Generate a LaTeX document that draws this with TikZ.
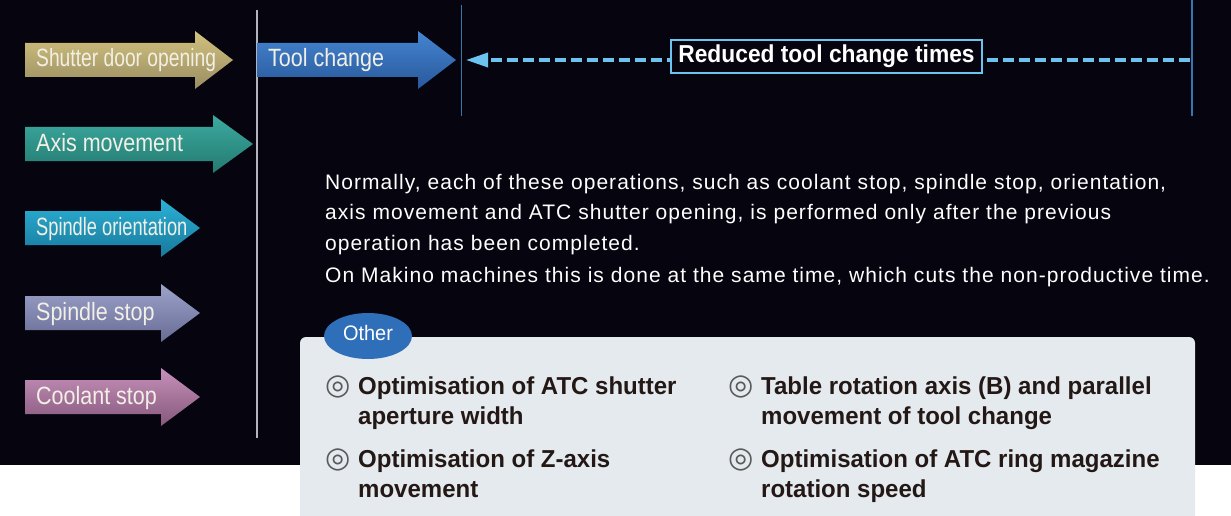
\documentclass[tikz,border=0pt]{standalone}
\usepackage{fontspec}
\setmainfont{Liberation Sans}
\newfontfamily\lblfont{Liberation Sans}[FakeStretch=0.86]
\newfontfamily\lblnarrowfont{Liberation Sans}[FakeStretch=0.77]
\newfontfamily\lbltightfont{Liberation Sans}[FakeStretch=0.73]
\newfontfamily\notefont{Liberation Sans}[LetterSpace=5.0]
\newfontfamily\headfont{Liberation Sans Bold}[FakeStretch=0.93]
\newfontfamily\itemfont{Liberation Sans Bold}[FakeStretch=0.98]
\newfontfamily\badgefont{Liberation Sans}[FakeStretch=0.95]
\newfontfamily\markfont{DejaVu Sans}
\usetikzlibrary{shapes.geometric,arrows.meta,positioning}

\definecolor{bgnight}{HTML}{06040F}
\definecolor{shutterA}{HTML}{D2C27E}
\definecolor{shutterB}{HTML}{9A8D62}
\definecolor{toolA}{HTML}{4585D2}
\definecolor{toolB}{HTML}{28589A}
\definecolor{axisA}{HTML}{3CAAA0}
\definecolor{axisB}{HTML}{247A70}
\definecolor{orientA}{HTML}{2CB0D6}
\definecolor{orientB}{HTML}{17799C}
\definecolor{stopA}{HTML}{9CA2CA}
\definecolor{stopB}{HTML}{686C94}
\definecolor{coolA}{HTML}{C690BA}
\definecolor{coolB}{HTML}{86587C}
\definecolor{dashblue}{HTML}{6CC4EE}
\definecolor{barblue}{HTML}{3A76AE}
\definecolor{bargray}{HTML}{B4B4BC}
\definecolor{panelgray}{HTML}{E4EAED}
\definecolor{otherblue}{HTML}{2F6EB9}
\definecolor{inkdark}{HTML}{231815}
\definecolor{markgray}{HTML}{5A5A5A}
\definecolor{labelwhite}{HTML}{F2F0E6}

\tikzset{
  oplabel/.style  = {anchor=base west, inner sep=0pt, text=labelwhite,
                     font=\lblfont\fontsize{25}{30}\selectfont},
  narrow/.style   = {font=\lblnarrowfont\fontsize{25}{30}\selectfont},
  tight/.style    = {font=\lbltightfont\fontsize{25}{30}\selectfont},
  graybar/.style  = {draw=bargray, line width=1.5pt},
  bluebar/.style  = {draw=barblue, line width=1.5pt},
  gainline/.style = {draw=dashblue, line width=3.5pt, dash pattern=on 11pt off 5pt,
                     -{Triangle[length=22pt,width=14pt,sep=0pt]}},
  gainbox/.style  = {rectangle, draw=dashblue, line width=1.5pt, fill=bgnight,
                     minimum width=311pt, minimum height=33pt, inner sep=0pt,
                     text=white, font=\headfont\fontsize{24.5}{28}\selectfont},
  note/.style     = {anchor=north west, inner sep=0pt, align=left, text=white,
                     font=\notefont\fontsize{21}{30.5}\selectfont},
  badge/.style    = {ellipse, fill=otherblue, minimum width=88pt, minimum height=46pt,
                     inner sep=0pt, text depth=7pt, text=white,
                     font=\badgefont\fontsize{21}{24}\selectfont},
  item/.style     = {anchor=base west, inner sep=0pt, align=left, text=inkdark,
                     font=\itemfont\fontsize{24.5}{30}\selectfont},
}
\newcommand{\mk}{\makebox[33pt][l]{\color{markgray}\markfont\fontsize{29}{29}\selectfont ◎}}
\newcommand{\mkgap}{\makebox[33pt][l]{}}

\begin{document}
\begin{tikzpicture}[x=1pt, y=-1pt]

%% background
\useasboundingbox (0,0) rectangle (1231,516);
\fill[white] (0,0) rectangle (1231,516);
\fill[bgnight] (0,0) rectangle (1231,465);

%% time bars
\draw[graybar] (257,10) -- (257,438);
\draw[bluebar] (461.5,5) -- (461.5,116);
\draw[bluebar] (1192,0) -- (1192,116);

%% operation arrows
\shade[top color=shutterA, bottom color=shutterB]
  (25,43) -- (195,43) -- (195,31) -- (233,60) -- (195,89) -- (195,77) -- (25,77) -- cycle;
\node[oplabel, narrow] (shutter) at (36,67) {Shutter door opening};

\shade[top color=toolA, bottom color=toolB]
  (257,43) -- (418,43) -- (418,31) -- (456,60) -- (418,89) -- (418,77) -- (257,77) -- cycle;
\node[oplabel] (tool) at (268,67) {Tool change};

\shade[top color=axisA, bottom color=axisB]
  (25,127) -- (213,127) -- (213,115) -- (253,144) -- (213,173) -- (213,161) -- (25,161) -- cycle;
\node[oplabel] (axis) at (36,151) {Axis movement};

\shade[top color=orientA, bottom color=orientB]
  (25,211) -- (161,211) -- (161,199) -- (200,228) -- (161,257) -- (161,245) -- (25,245) -- cycle;
\node[oplabel, tight] (orient) at (36,235) {Spindle orientation};

\shade[top color=stopA, bottom color=stopB]
  (25,296) -- (161,296) -- (161,284) -- (200,313) -- (161,342) -- (161,330) -- (25,330) -- cycle;
\node[oplabel] (spindle) at (36,320) {Spindle stop};

\shade[top color=coolA, bottom color=coolB]
  (25,380) -- (161,380) -- (161,368) -- (200,397) -- (161,426) -- (161,414) -- (25,414) -- cycle;
\node[oplabel] (coolant) at (36,404) {Coolant stop};

%% reduced time span
\coordinate (tcbar) at (466,60);
\coordinate (refbar) at (1190,60);
\draw[gainline] (refbar) -- (tcbar);
\node[gainbox] (gain) at (826.5,56.5) {Reduced tool change times};

%% explanation
\node[note] (expl) at (325,174)
  {Normally, each of these operations, such as coolant stop, spindle stop, orientation,\\
   axis movement and ATC shutter opening, is performed only after the previous\\
   operation has been completed.\\[2pt]
   On Makino machines this is done at the same time, which cuts the non-productive time.};

%% other measures
\fill[panelgray, rounded corners=6pt] (300,530) |- (1195,337) -- (1195,530);
\node[badge] (other) at (368,336) {Other};

\node[item] (shutterw) at (325,424) {\mk Optimisation of ATC shutter\\\mkgap aperture width};
\node[item] (zaxis) at (325,497) {\mk Optimisation of Z-axis\\\mkgap movement};
\node[item] (btable) at (728,424) {\mk Table rotation axis (B) and parallel\\\mkgap movement of tool change};
\node[item] (ring) at (728,497) {\mk Optimisation of ATC ring magazine\\\mkgap rotation speed};

\end{tikzpicture}
\end{document}
